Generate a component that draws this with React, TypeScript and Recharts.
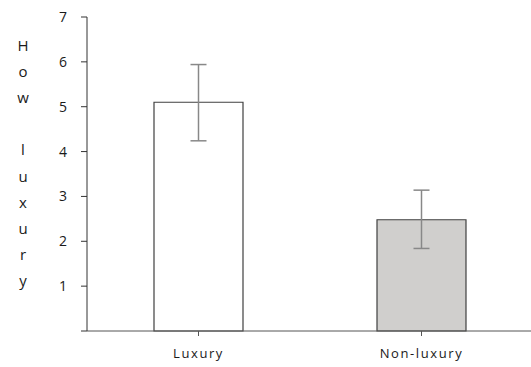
import React from "react";
import { BarChart, Bar, XAxis, YAxis, ErrorBar, Cell } from "recharts";

const categories = ["Luxury", "Non-luxury"];
const means = [5.1, 2.48];
const errLow = [0.86, 0.64];
const errHigh = [0.84, 0.66];
const fills = ["#ffffff", "#d0cfcd"];
const yTicks = [0, 1, 2, 3, 4, 5, 6, 7];
const yLabelLetters = ["H", "o", "w", "", "l", "u", "x", "u", "r", "y"];

const data = categories.map((name, i) => ({
  name,
  value: means[i],
  err: [errLow[i], errHigh[i]],
}));

const font = "'Open Sans', sans-serif";

function YLabel() {
  return (
    <g>
      {yLabelLetters.map((ch, i) => (
        <text
          key={i}
          x={23}
          y={45 + i * 26.1}
          textAnchor="middle"
          dominantBaseline="central"
          fontFamily={font}
          fontSize={15}
          fill="#1a1a1a"
        >
          {ch}
        </text>
      ))}
    </g>
  );
}

export default function App() {
  return (
    <div style={{ position: "absolute", left: 0, top: 0, width: 531, height: 367, overflow: "hidden", background: "#fff" }}>
      <BarChart
        width={533}
        height={367}
        data={data}
        margin={{ top: 17, right: 0, left: 27, bottom: 6 }}
        barCategoryGap={0}
      >
        <XAxis
          dataKey="name"
          height={30}
          tickSize={5}
          tickMargin={13}
          stroke="#555"
          tick={{ fontFamily: font, fontSize: 13, fill: "#1a1a1a", letterSpacing: 1.6 }}
        />
        <YAxis
          width={60}
          domain={[0, 7]}
          ticks={yTicks}
          interval={0}
          tickSize={6}
          tickMargin={14}
          stroke="#333"
          tickFormatter={(v: number) => (v === 0 ? "" : String(v))}
          tick={{ fontFamily: font, fontSize: 14, fill: "#1a1a1a" }}
          label={<YLabel />}
        />
        <Bar dataKey="value" barSize={89} stroke="#404040" strokeWidth={1.2} isAnimationActive={false}>
          {data.map((d, i) => (
            <Cell key={d.name} fill={fills[i]} />
          ))}
          <ErrorBar dataKey="err" width={8} stroke="#888" strokeWidth={1.5} isAnimationActive={false} />
        </Bar>
      </BarChart>
    </div>
  );
}
